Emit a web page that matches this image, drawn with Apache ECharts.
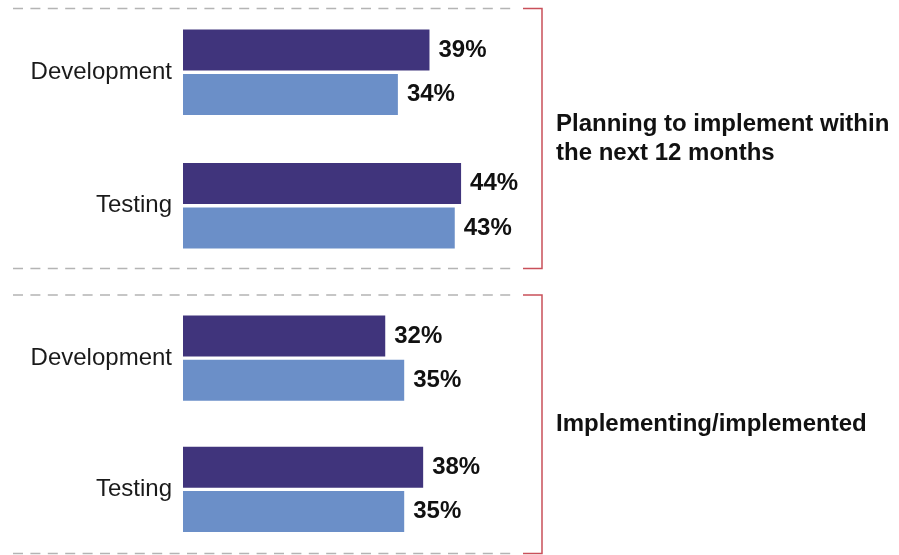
<!DOCTYPE html>
<html>
<head>
<meta charset="utf-8">
<title>Adoption status</title>
<script src="https://cdn.jsdelivr.net/npm/echarts@6/dist/echarts.min.js"></script>
<style>
  html, body { margin: 0; padding: 0; background: #ffffff; }
  #chart { width: 899px; height: 555px; }
</style>
</head>
<body>
<div id="chart"></div>
<script>
// Categories shown in each panel
const categories = ['Development', 'Testing'];

// Panel headings
const panelTitles = [
  'Planning to implement within\nthe next 12 months',
  'Implementing/implemented'
];

// Percentages per panel (first bar / second bar of each category)
const planningFirst = [39, 44];
const planningSecond = [34, 43];
const implementingFirst = [32, 38];
const implementingSecond = [35, 35];

const panelValues = [
  [planningFirst, planningSecond],
  [implementingFirst, implementingSecond]
];

const FONT = '"Liberation Sans", Arial, Helvetica, sans-serif';
const DARK = '#40347c';
const LIGHT = '#6b8fc8';
const RED = '#c9505a';
const GREY_DASH = '#b4b4b4';

// Layout of the two panels
const GRID_LEFT = 183;
const GRID_WIDTH = 316;
const panels = [
  { top: 5.5, height: 267, lineTop: 8.5, lineBottom: 268.5 },
  { top: 292.4, height: 266.4, lineTop: 295, lineBottom: 553.5 }
];
const DASH_X0 = 13, DASH_X1 = 517;
const BRACKET_X0 = 523, BRACKET_X1 = 542;
const TITLE_X = 556;

const chart = echarts.init(document.getElementById('chart'), null, { renderer: 'canvas' });

const grids = panels.map(p => ({
  left: GRID_LEFT, top: p.top, width: GRID_WIDTH, height: p.height, containLabel: false
}));

const xAxes = panels.map((p, i) => ({
  type: 'value', gridIndex: i, min: 0, max: 50, show: false
}));

const yAxes = panels.map((p, i) => ({
  type: 'category', gridIndex: i, data: categories, inverse: true,
  axisLine: { show: false }, axisTick: { show: false }, splitLine: { show: false },
  axisLabel: { margin: 11, fontSize: 24, color: '#1a1a1a', fontFamily: FONT }
}));

const series = [];
panelValues.forEach((pair, i) => {
  pair.forEach((vals, j) => {
    series.push({
      type: 'bar', name: 'panel' + i + '-' + j,
      xAxisIndex: i, yAxisIndex: i,
      data: vals,
      barWidth: 41, barGap: '8%',
      itemStyle: { color: j === 0 ? DARK : LIGHT },
      label: {
        show: true, position: 'right', distance: 9,
        formatter: '{c}%', fontSize: 24, fontWeight: 'bold',
        color: '#111111', fontFamily: FONT
      },
      silent: true, animation: false
    });
  });
});

// Dashed separators, brackets and panel headings
const graphic = [];
panels.forEach((p, i) => {
  [p.lineTop, p.lineBottom].forEach(y => {
    graphic.push({
      type: 'line',
      shape: { x1: DASH_X0, y1: y, x2: DASH_X1, y2: y },
      style: { stroke: GREY_DASH, lineWidth: 1.4, lineDash: [10, 7.4] }
    });
  });
  graphic.push({
    type: 'polyline',
    shape: { points: [[BRACKET_X0, p.lineTop], [BRACKET_X1, p.lineTop], [BRACKET_X1, p.lineBottom], [BRACKET_X0, p.lineBottom]] },
    style: { stroke: RED, lineWidth: 1.5, fill: null }
  });
  graphic.push({
    type: 'text',
    x: TITLE_X, y: (p.lineTop + p.lineBottom) / 2,
    style: {
      text: panelTitles[i], fontSize: 24, fontWeight: 'bold', fontFamily: FONT,
      fill: '#111111', lineHeight: 29, verticalAlign: 'middle', align: 'left'
    }
  });
});

chart.setOption({
  animation: false,
  grid: grids,
  xAxis: xAxes,
  yAxis: yAxes,
  series: series,
  graphic: graphic
});
</script>
</body>
</html>
